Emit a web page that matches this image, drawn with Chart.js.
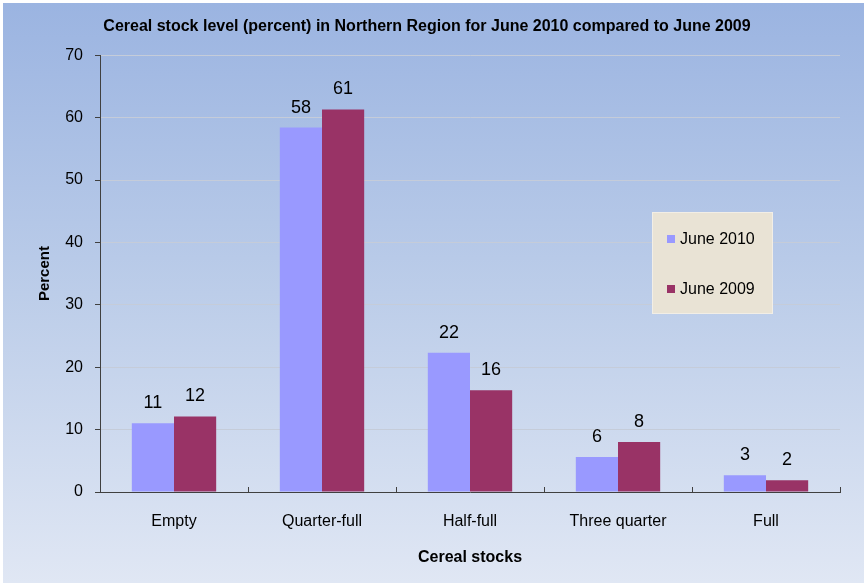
<!DOCTYPE html>
<html>
<head>
<meta charset="utf-8">
<script src="https://cdn.jsdelivr.net/npm/chart.js@4.4.1/dist/chart.umd.min.js"></script>
<style>
  html, body { margin: 0; padding: 0; background: #ffffff; }
  #wrap { position: relative; width: 867px; height: 583px; }
</style>
</head>
<body>
<div id="wrap"><canvas id="c" width="867" height="583"></canvas></div>
<script>
const categories = ["Empty", "Quarter-full", "Half-full", "Three quarter", "Full"];
const june2010 = [11.0, 58.4, 22.3, 5.6, 2.7];
const june2009 = [12.1, 61.3, 16.3, 8.0, 1.9];
const seriesNames = ["June 2010", "June 2009"];
const seriesColors = ["#9999ff", "#993366"];
const yTicks = [0, 10, 20, 30, 40, 50, 60, 70];
const chartTitle = "Cereal stock level (percent) in Northern Region for June 2010 compared to June 2009";
const xTitle = "Cereal stocks";
const yTitle = "Percent";

const NARROW = "'Liberation Sans Narrow', 'Arial Narrow', 'Liberation Sans', Arial, sans-serif";
const SANS = "'Liberation Sans', Arial, sans-serif";

const bgPlugin = {
  id: 'bg',
  beforeDraw(chart) {
    const ctx = chart.ctx;
    ctx.save();
    ctx.fillStyle = '#ffffff';
    ctx.fillRect(0, 0, chart.width, chart.height);
    const g = ctx.createLinearGradient(0, 3, 0, chart.height);
    g.addColorStop(0, '#9bb4e1');
    g.addColorStop(0.5, '#bccde9');
    g.addColorStop(1, '#e0e7f4');
    ctx.fillStyle = g;
    ctx.fillRect(3, 3, chart.width - 6, chart.height - 3);
    ctx.restore();
  }
};

const labelPlugin = {
  id: 'vals',
  afterDatasetsDraw(chart) {
    const ctx = chart.ctx;
    ctx.save();
    ctx.font = '18px ' + SANS;
    ctx.fillStyle = '#000000';
    ctx.textAlign = 'center';
    ctx.textBaseline = 'middle';
    chart.data.datasets.forEach((ds, di) => {
      const meta = chart.getDatasetMeta(di);
      meta.data.forEach((bar, i) => {
        ctx.fillText(String(Math.round(ds.data[i])), bar.x, bar.y - 20);
      });
    });
    ctx.restore();
  }
};

const legendPlugin = {
  id: 'customLegend',
  afterDraw(chart) {
    const ctx = chart.ctx;
    const bx = 652, by = 212, bw = 121, bh = 102;
    ctx.save();
    ctx.fillStyle = '#e9e3d5';
    ctx.fillRect(bx, by, bw, bh);
    ctx.strokeStyle = '#f2eee6';
    ctx.lineWidth = 1;
    ctx.strokeRect(bx + 0.5, by + 0.5, bw - 1, bh - 1);
    ctx.font = '16px ' + SANS;
    ctx.textBaseline = 'middle';
    ctx.textAlign = 'left';
    chart.data.datasets.forEach((ds, i) => {
      const cy = by + 27 + i * 50;
      ctx.fillStyle = ds.backgroundColor;
      ctx.fillRect(bx + 15, cy - 4, 8, 8);
      ctx.fillStyle = '#000000';
      ctx.fillText(ds.label, bx + 28, cy + 1);
    });
    ctx.restore();
  }
};

new Chart(document.getElementById('c'), {
  type: 'bar',
  data: {
    labels: categories,
    datasets: [
      { label: seriesNames[0], data: june2010, backgroundColor: seriesColors[0] },
      { label: seriesNames[1], data: june2009, backgroundColor: seriesColors[1] }
    ]
  },
  options: {
    responsive: false,
    animation: false,
    devicePixelRatio: 1,
    layout: { padding: { left: 14, right: 27, top: 0, bottom: 0 } },
    datasets: { bar: { categoryPercentage: 0.57, barPercentage: 1.0 } },
    plugins: {
      legend: { display: false },
      tooltip: { enabled: false },
      title: {
        display: true,
        text: chartTitle,
        color: '#000000',
        font: { family: NARROW, size: 16, weight: 'bold' },
        padding: { top: 17, bottom: 19 }
      }
    },
    scales: {
      x: {
        afterFit(scale) { scale.height = 91; },
        grid: { display: true, drawOnChartArea: false, offset: true, tickLength: -5, tickColor: '#404040' },
        border: { display: true, color: '#404040', width: 1 },
        ticks: { color: '#000000', font: { family: NARROW, size: 16 }, padding: 25, maxRotation: 0 },
        title: {
          display: true, text: xTitle, color: '#000000',
          font: { family: NARROW, size: 16, weight: 'bold' },
          padding: { top: 0, bottom: 16 }
        }
      },
      y: {
        min: 0, max: 70,
        afterFit(scale) { scale.width = 86; },
        afterBuildTicks(scale) { scale.ticks = yTicks.map(v => ({ value: v })); },
        grid: { color: '#c5ccd9', tickLength: 5, tickColor: '#404040' },
        border: { display: true, color: '#404040', width: 1 },
        ticks: { color: '#000000', font: { family: SANS, size: 16 }, padding: 12 },
        title: {
          display: true, text: yTitle, color: '#000000',
          font: { family: SANS, size: 15, weight: 'bold' },
          padding: { top: 22, bottom: 0 }
        }
      }
    }
  },
  plugins: [bgPlugin, labelPlugin, legendPlugin]
});
</script>
</body>
</html>
